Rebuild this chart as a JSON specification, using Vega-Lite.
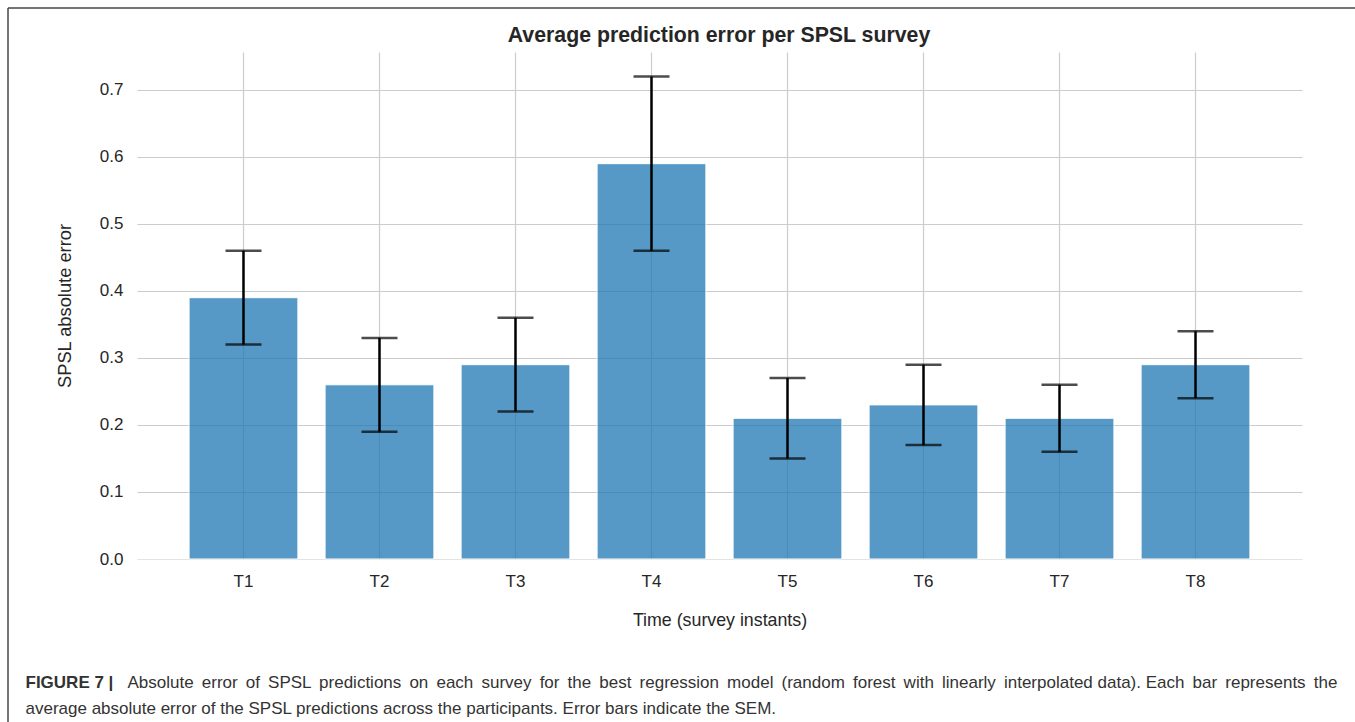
{
  "$schema": "https://vega.github.io/schema/vega-lite/v6.json",
  "width": 1347,
  "height": 714,
  "autosize": {"type": "none"},
  "padding": {"left": 8, "top": 8, "right": 0, "bottom": 0},
  "background": "white",
  "config": {
    "font": "Liberation Sans",
    "view": {"stroke": "#474747", "strokeWidth": 1.5, "strokeDash": [1347, 2061, 714, 0]}
  },
  "title": {
    "text": "Average prediction error per SPSL survey",
    "fontSize": 21.3,
    "fontWeight": "bold",
    "color": "#262626",
    "anchor": "middle",
    "dx": 37.5,
    "offset": -38,
    "font": "Liberation Sans"
  },
  "data": {
    "values": [
      {"t": "T1", "v": 0.39, "lo": 0.32, "hi": 0.46},
      {"t": "T2", "v": 0.26, "lo": 0.19, "hi": 0.33},
      {"t": "T3", "v": 0.29, "lo": 0.22, "hi": 0.36},
      {"t": "T4", "v": 0.59, "lo": 0.46, "hi": 0.72},
      {"t": "T5", "v": 0.21, "lo": 0.15, "hi": 0.27},
      {"t": "T6", "v": 0.23, "lo": 0.17, "hi": 0.29},
      {"t": "T7", "v": 0.21, "lo": 0.16, "hi": 0.26},
      {"t": "T8", "v": 0.29, "lo": 0.24, "hi": 0.34}
    ]
  },
  "layer": [
    {
      "mark": {"type": "bar", "color": "#1f77b4", "opacity": 0.75, "stroke": "white", "strokeWidth": 1},
      "encoding": {
        "x": {
          "field": "t", "type": "nominal", "sort": null,
          "scale": {"range": [129, 1294], "paddingInner": 0.2, "paddingOuter": 0.383},
          "axis": {
            "orient": "bottom", "offset": -163, "labelAngle": 0, "labelFontSize": 17, "labelColor": "#262626",
            "labelPadding": 14, "ticks": false, "tickSize": 0, "domain": false, "grid": false,
            "title": "Time (survey instants)", "titleFontSize": 17.8, "titleFontWeight": "normal",
            "titleColor": "#262626", "titlePadding": 22
          }
        },
        "y": {
          "field": "v", "type": "quantitative",
          "scale": {"domain": [0, 0.7567], "range": [551, 44], "nice": false, "zero": true},
          "axis": {
            "orient": "left", "offset": -129, "values": [0, 0.1, 0.2, 0.3, 0.4, 0.5, 0.6, 0.7], "format": ".1f",
            "labelFontSize": 17, "labelColor": "#262626", "labelPadding": 14, "ticks": false, "tickSize": 0,
            "domain": false, "grid": true, "gridWidth": 1.2,
            "gridColor": {"condition": {"test": "datum.value === 0", "value": "#e3e3e3"}, "value": "#cccccc"},
            "title": "SPSL absolute error", "titleFontSize": 18.3, "titleFontWeight": "normal",
            "titleColor": "#262626", "titlePadding": 25
          }
        }
      }
    },
    {
      "mark": {"type": "rule", "color": "black", "strokeWidth": 2.5},
      "encoding": {
        "x": {
          "field": "t", "type": "nominal", "sort": null,
          "axis": {
            "orient": "top", "labels": false, "ticks": false, "domain": false,
            "grid": true, "gridColor": "#cccccc", "gridWidth": 1.2, "bandPosition": 0.5,
            "title": "Absolute \u2009error \u2009of \u2009SPSL \u2009predictions \u2009on \u2009each \u2009survey \u2009for \u2009the \u2009best \u2009regression \u2009model \u2009(random \u2009forest \u2009with \u2009linearly \u2009interpolated data). Each \u2009bar \u2009represents \u2009the",
            "titleX": 119, "titleY": 679, "titleAngle": 0, "titleAlign": "left", "titleBaseline": "alphabetic",
            "titleFontSize": 17, "titleFontWeight": "normal", "titleColor": "#333333", "titleLimit": 3000
          }
        },
        "y": {
          "field": "lo", "type": "quantitative",
          "scale": {"domain": [0, 0.7567], "nice": false},
          "axis": {
            "orient": "right", "labels": false, "ticks": false, "domain": false, "grid": false,
            "title": "FIGURE 7 |", "titleX": -1330, "titleY": 679, "titleAngle": 0, "titleAlign": "left",
            "titleBaseline": "alphabetic", "titleFontSize": 17, "titleFontWeight": "bold", "titleColor": "#333333",
            "titleLimit": 3000
          }
        },
        "y2": {"field": "hi"}
      }
    },
    {
      "mark": {"type": "tick", "color": "black", "thickness": 2.5, "size": 36},
      "encoding": {
        "x": {
          "field": "t", "type": "nominal", "sort": null,
          "axis": {
            "orient": "top", "labels": false, "ticks": false, "domain": false, "grid": false,
            "title": "average absolute error of the SPSL predictions across the participants. Error bars indicate the SEM.",
            "titleX": 17, "titleY": 705, "titleAngle": 0, "titleAlign": "left", "titleBaseline": "alphabetic",
            "titleFontSize": 17, "titleFontWeight": "normal", "titleColor": "#333333", "titleLimit": 3000
          }
        },
        "y": {"field": "lo", "type": "quantitative", "axis": null}
      }
    },
    {
      "mark": {"type": "tick", "color": "black", "thickness": 2.5, "size": 36},
      "encoding": {
        "x": {"field": "t", "type": "nominal", "sort": null, "axis": null},
        "y": {"field": "hi", "type": "quantitative", "axis": null}
      }
    }
  ]
}
